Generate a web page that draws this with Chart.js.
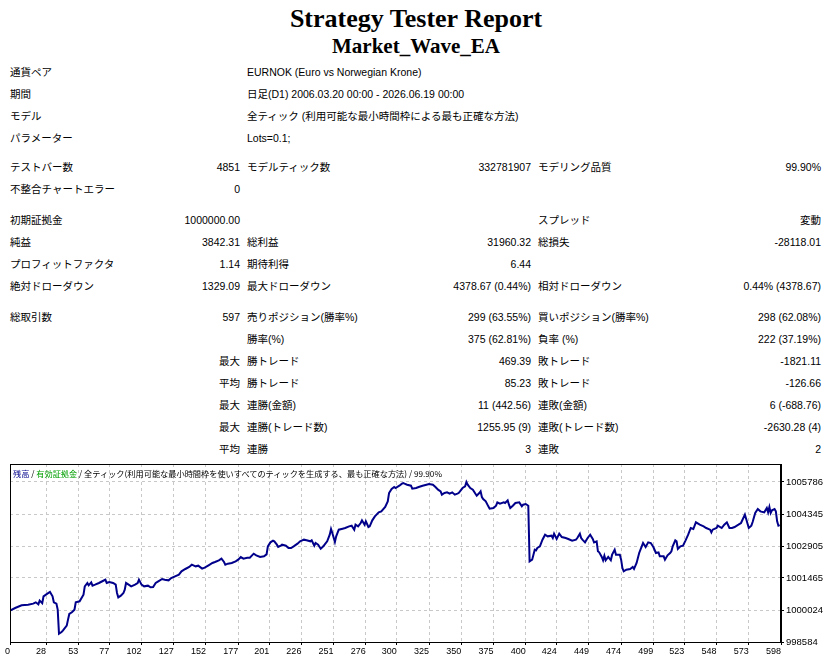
<!DOCTYPE html>
<html>
<head>
<meta charset="utf-8">
<script src="https://cdn.jsdelivr.net/npm/chart.js@4"></script>
<style>
  body { margin: 0; width: 832px; height: 664px; overflow: hidden; background: #fff; position: relative; }
  .t1, .t2 { position: absolute; left: 0; width: 832px; text-align: center; font-family: "Liberation Serif", serif; font-weight: bold; color: #000; }
  .t1 { top: 4px; font-size: 26px; line-height: 30px; }
  .t2 { top: 34px; font-size: 21px; line-height: 24px; }
  #rep { position: absolute; left: 10px; top: 61px; border-collapse: collapse; table-layout: fixed; width: 811px;
         font-family: "Liberation Sans", "Noto Sans CJK JP", sans-serif; font-size: 10.5px; color: #000; }
  #rep td { padding: 0; height: 22px; line-height: 22px; white-space: nowrap; overflow: visible; }
  #rep td.l { padding-left: 7px; }
  #rep td.r { text-align: right; }
  #rep tr.s7 td { height: 7px; line-height: 7px; }
  #rep tr.s9 td { height: 9px; line-height: 9px; }
  #chartTitle { position: absolute; left: 13px; top: 467px; font-family: "Noto Sans CJK JP", sans-serif; font-size: 8.2px; line-height: 12px; white-space: nowrap; color: #000; z-index: 2; }
  #balanceChart { position: absolute; left: 0; top: 450px; }
</style>
</head>
<body>
<div class="t1">Strategy Tester Report</div>
<div class="t2">Market_Wave_EA</div>

<table id="rep">
  <colgroup><col style="width:160px"><col style="width:70px"><col style="width:160px"><col style="width:131px"><col style="width:150px"><col style="width:140px"></colgroup>
  <tr><td>通貨ペア</td><td></td><td colspan="4" class="l">EURNOK (Euro vs Norwegian Krone)</td></tr>
  <tr><td>期間</td><td></td><td colspan="4" class="l">日足(D1) 2006.03.20 00:00 - 2026.06.19 00:00</td></tr>
  <tr><td>モデル</td><td></td><td colspan="4" class="l">全ティック (利用可能な最小時間枠による最も正確な方法)</td></tr>
  <tr><td>パラメーター</td><td></td><td colspan="4" class="l">Lots=0.1;</td></tr>
  <tr class="s7"><td colspan="6"></td></tr>
  <tr><td>テストバー数</td><td class="r">4851</td><td class="l">モデルティック数</td><td class="r">332781907</td><td class="l">モデリング品質</td><td class="r">99.90%</td></tr>
  <tr><td>不整合チャートエラー</td><td class="r">0</td><td></td><td></td><td></td><td></td></tr>
  <tr class="s9"><td colspan="6"></td></tr>
  <tr><td>初期証拠金</td><td class="r">1000000.00</td><td></td><td></td><td class="l">スプレッド</td><td class="r">変動</td></tr>
  <tr><td>純益</td><td class="r">3842.31</td><td class="l">総利益</td><td class="r">31960.32</td><td class="l">総損失</td><td class="r">-28118.01</td></tr>
  <tr><td>プロフィットファクタ</td><td class="r">1.14</td><td class="l">期待利得</td><td class="r">6.44</td><td></td><td></td></tr>
  <tr><td>絶対ドローダウン</td><td class="r">1329.09</td><td class="l">最大ドローダウン</td><td class="r">4378.67 (0.44%)</td><td class="l">相対ドローダウン</td><td class="r">0.44% (4378.67)</td></tr>
  <tr class="s9"><td colspan="6"></td></tr>
  <tr><td>総取引数</td><td class="r">597</td><td class="l">売りポジション(勝率%)</td><td class="r">299 (63.55%)</td><td class="l">買いポジション(勝率%)</td><td class="r">298 (62.08%)</td></tr>
  <tr><td></td><td></td><td class="l">勝率(%)</td><td class="r">375 (62.81%)</td><td class="l">負率 (%)</td><td class="r">222 (37.19%)</td></tr>
  <tr><td></td><td class="r">最大</td><td class="l">勝トレード</td><td class="r">469.39</td><td class="l">敗トレード</td><td class="r">-1821.11</td></tr>
  <tr><td></td><td class="r">平均</td><td class="l">勝トレード</td><td class="r">85.23</td><td class="l">敗トレード</td><td class="r">-126.66</td></tr>
  <tr><td></td><td class="r">最大</td><td class="l">連勝(金額)</td><td class="r">11 (442.56)</td><td class="l">連敗(金額)</td><td class="r">6 (-688.76)</td></tr>
  <tr><td></td><td class="r">最大</td><td class="l">連勝(トレード数)</td><td class="r">1255.95 (9)</td><td class="l">連敗(トレード数)</td><td class="r">-2630.28 (4)</td></tr>
  <tr><td></td><td class="r">平均</td><td class="l">連勝</td><td class="r">3</td><td class="l">連敗</td><td class="r">2</td></tr>
</table>

<div id="chartTitle"><span style="color:#00008b">残高</span> / <span style="color:#00a000">有効証拠金</span> / 全ティック(利用可能な最小時間枠を使いすべてのティックを生成する、最も正確な方法) / 99.90%</div>
<canvas id="balanceChart" width="832" height="214"></canvas>

<script>
// trade number and balance after that trade
const tradeNo = [
  0, 4, 9, 14, 18, 20, 22, 23, 25, 26, 29, 31, 33, 34, 36, 37, 38, 40, 41, 44,
  45, 46, 48, 50, 51, 54, 57, 58, 60, 61, 63, 64, 66, 69, 72, 74, 75, 77, 80, 82,
  83, 84, 86, 88, 89, 90, 92, 94, 97, 99, 100, 102, 104, 107, 109, 111, 113, 115, 118, 120,
  123, 125, 128, 131, 133, 136, 139, 141, 144, 146, 149, 151, 154, 157, 159, 162, 164, 166, 167, 169,
  172, 175, 177, 179, 181, 184, 186, 189, 191, 194, 197, 199, 200, 202, 204, 205, 207, 208, 210, 211,
  214, 216, 218, 220, 223, 225, 228, 230, 233, 234, 236, 237, 239, 241, 243, 244, 246, 248, 249, 250,
  252, 253, 255, 258, 260, 263, 265, 267, 268, 270, 272, 273, 275, 276, 278, 279, 281, 283, 286, 288,
  291, 293, 294, 296, 298, 299, 302, 304, 305, 306, 308, 311, 312, 315, 317, 320, 323, 325, 328, 330,
  332, 334, 335, 337, 339, 341, 343, 345, 347, 348, 351, 353, 354, 355, 357, 359, 361, 362, 364, 365,
  366, 367, 369, 371, 372, 375, 377, 378, 380, 383, 384, 386, 387, 388, 390, 392, 395, 397, 398, 400,
  402, 403, 405, 407, 408, 409, 411, 413, 415, 417, 420, 421, 422, 424, 426, 428, 431, 433, 436, 439,
  440, 442, 443, 444, 446, 448, 450, 452, 453, 455, 456, 457, 459, 460, 461, 462, 464, 466, 467, 469,
  470, 473, 474, 475, 476, 478, 481, 483, 484, 486, 488, 490, 491, 493, 495, 497, 499, 501, 503, 504,
  507, 508, 510, 512, 513, 514, 516, 517, 518, 520, 522, 524, 526, 528, 530, 532, 535, 538, 540, 543,
  544, 545, 548, 549, 552, 554, 556, 558, 560, 562, 565, 567, 570, 571, 573, 575, 576, 578, 580, 582,
  585, 587, 588, 589, 590, 591, 593, 594, 595, 596, 597
];
const balance = [
  1000000, 1000115, 1000235, 1000265, 1000310, 1000370, 1000280, 1000445, 1000330, 1000640,
  1000760, 1000835, 1000640, 1000370, 1000310, 1000040, 998960, 999035, 999095, 999320,
  999590, 999845, 999920, 1000040, 1000370, 1000415, 1000715, 1001090, 1001240, 1001135,
  1001270, 1001120, 1001165, 1001240, 1001330, 1001390, 1001240, 1001285, 1001240, 1001165,
  1000790, 1000595, 1000670, 1000790, 1000940, 1001240, 1001165, 1001090, 1001165, 1001240,
  1001390, 1001165, 1001090, 1001120, 1001045, 1001060, 1001240, 1001315, 1001420, 1001390,
  1001360, 1001465, 1001540, 1001615, 1001765, 1001870, 1001960, 1002065, 1001990, 1002020,
  1001885, 1001930, 1002035, 1002140, 1002185, 1002260, 1002335, 1002185, 1002065, 1002110,
  1002140, 1002215, 1002290, 1002410, 1002335, 1002380, 1002380, 1002560, 1002485, 1002410,
  1002440, 1002530, 1002890, 1003070, 1003145, 1003115, 1002965, 1002860, 1002920, 1002965,
  1002920, 1002815, 1002815, 1002890, 1003010, 1003115, 1003190, 1003160, 1003115, 1003160,
  1002920, 1003040, 1002965, 1002785, 1002890, 1002965, 1003115, 1003415, 1003670, 1003490,
  1003085, 1003340, 1003640, 1003685, 1003715, 1003790, 1003820, 1003640, 1003865, 1003790,
  1003940, 1004060, 1003865, 1004015, 1003760, 1003790, 1004060, 1004240, 1004420, 1004465,
  1004660, 1004915, 1005290, 1005470, 1005560, 1005515, 1005620, 1005710, 1005740, 1005710,
  1005665, 1005620, 1005485, 1005515, 1005560, 1005620, 1005665, 1005695, 1005665, 1005560,
  1005440, 1005365, 1005215, 1005290, 1005320, 1005260, 1005320, 1005215, 1005260, 1005290,
  1005515, 1005590, 1005786, 1005665, 1005515, 1005440, 1005260, 1005170, 1005290, 1005365,
  1005110, 1005020, 1004915, 1004690, 1004585, 1004615, 1004720, 1004870, 1004810, 1004870,
  1004840, 1004960, 1004765, 1004615, 1004720, 1004840, 1004870, 1004690, 1004765, 1004795,
  1004720, 1002215, 1002290, 1002740, 1002710, 1002815, 1002890, 1003190, 1003415, 1003340,
  1003370, 1003265, 1003460, 1003220, 1003460, 1003310, 1003265, 1003220, 1003145, 1003190,
  1003265, 1003460, 1003265, 1003190, 1003070, 1003265, 1003415, 1003220, 1003070, 1003115,
  1002665, 1002620, 1002410, 1002260, 1002470, 1002260, 1002410, 1002260, 1002515, 1002740,
  1002515, 1002515, 1002290, 1001910, 1001765, 1001840, 1001870, 1001960, 1001870, 1002140,
  1002590, 1002890, 1003040, 1002860, 1003070, 1003040, 1002860, 1002590, 1002620, 1002440,
  1002440, 1002290, 1002485, 1002590, 1002665, 1002890, 1003160, 1003115, 1002770, 1002890,
  1002920, 1003160, 1003415, 1003715, 1003670, 1003970, 1003865, 1003790, 1003715, 1003640,
  1003520, 1003640, 1003715, 1003820, 1003715, 1003865, 1003970, 1003715, 1003715, 1003760,
  1003865, 1003940, 1004315, 1004120, 1003715, 1003820, 1003985, 1004390, 1004570, 1004465,
  1004420, 1004615, 1004420, 1004660, 1004390, 1004510, 1004570, 1004465, 1004015, 1003820,
  1003842
];
const xTickLabels = [0, 28, 53, 77, 102, 127, 152, 177, 201, 226, 251, 276, 300, 325, 350, 375, 400, 424, 449, 474, 499, 523, 548, 573, 598];
const yTickLabels = [998584, 1000024, 1001465, 1002905, 1004345, 1005786];
const yTop = 1006596;

// black frame around the plot like the tester graph
const frame = {
  id: 'frame',
  afterDraw(chart) {
    const a = chart.chartArea, ctx = chart.ctx;
    ctx.save();
    ctx.strokeStyle = '#000';
    ctx.lineWidth = 1;
    ctx.strokeRect(Math.round(a.left) + 0.5, Math.round(a.top) + 0.5, Math.round(a.right - a.left) - 1, Math.round(a.bottom - a.top));
    ctx.restore();
  }
};

const points = tradeNo.map((n, i) => ({ x: n, y: balance[i] }));
const ctx = document.getElementById('balanceChart').getContext('2d');

new Chart(ctx, {
  type: 'line',
  data: {
    datasets: [{
      data: points,
      borderColor: '#00008b',
      borderWidth: 2,
      pointRadius: 0,
      tension: 0,
      fill: false
    }]
  },
  options: {
    responsive: false,
    animation: false,
    layout: { padding: { left: 10, top: 14, right: 0, bottom: 0 } },
    plugins: { legend: { display: false }, tooltip: { enabled: false } },
    scales: {
      x: {
        type: 'linear',
        min: 0,
        max: 598,
        afterBuildTicks: axis => { axis.ticks = xTickLabels.map(v => ({ value: v })); },
        afterFit: axis => { axis.height = 22; },
        ticks: {
          autoSkip: false,
          maxRotation: 0,
          align: 'end',
          padding: 1,
          color: '#000',
          font: { family: 'Liberation Sans', size: 9 },
          callback: v => String(v)
        },
        grid: { color: '#c8c8c8', tickColor: '#000', tickLength: 3, lineWidth: 1 },
        border: { display: true, color: '#000', dash: [3, 3] }
      },
      y: {
        position: 'right',
        min: yTickLabels[0],
        max: yTop,
        afterBuildTicks: axis => { axis.ticks = yTickLabels.map(v => ({ value: v })); },
        afterFit: axis => { axis.width = 51; },
        ticks: {
          padding: 2,
          color: '#000',
          font: { family: 'Liberation Sans', size: 9.5 },
          callback: v => String(v)
        },
        grid: { color: '#c8c8c8', tickColor: '#000', tickLength: 3, lineWidth: 1 },
        border: { display: true, color: '#000', dash: [3, 3] }
      }
    }
  },
  plugins: [frame]
});
</script>
</body>
</html>
